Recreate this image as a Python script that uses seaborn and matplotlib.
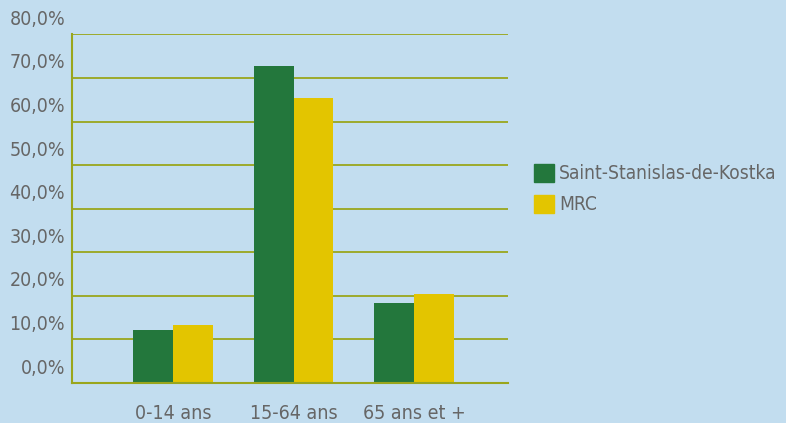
import numpy as np
import matplotlib
matplotlib.use("Agg")
import matplotlib.pyplot as plt
import matplotlib.transforms as mtransforms
import pandas as pd
import seaborn as sns

groupes = ['0-14 ans', '15-64 ans', '65 ans et +']
series = ['Saint-Stanislas-de-Kostka', 'MRC']
val_ssk = [12.2, 72.8, 18.4]
val_mrc = [13.4, 65.5, 20.5]
yticks = [0, 10, 20, 30, 40, 50, 60, 70, 80]

df = pd.DataFrame({
    'groupe': groupes * 2,
    'serie': [series[0]] * 3 + [series[1]] * 3,
    'valeur': val_ssk + val_mrc,
})

bg = '#C2DDEF'
vert = '#23773C'
jaune = '#E3C500'
olive = '#9AA61C'
gris = '#666666'

sns.set_style('white')
plt.rcParams['font.family'] = ['DejaVu Sans']
plt.rcParams['font.stretch'] = 'condensed'

fig = plt.figure(figsize=(7.86, 4.23), dpi=100, facecolor=bg)
ax = fig.add_axes([72 / 786, 40 / 423, 436 / 786, 348.6 / 423])
ax.set_facecolor(bg)

sns.barplot(data=df, x='groupe', y='valeur', hue='serie', order=groupes,
            hue_order=series, palette=[vert, jaune], width=0.66, gap=0,
            saturation=1, linewidth=0, ax=ax, legend=False)

ax.set_ylim(0, 80)
ax.set_xlim(-0.84, 2.78)
ax.set_yticks(yticks)
ax.set_yticklabels([f'{v:.1f}%'.replace('.', ',') for v in yticks])
ax.yaxis.grid(True, color=olive, linewidth=1.3)
ax.set_axisbelow(True)
ax.set_xlabel('')
ax.set_ylabel('')
ax.tick_params(axis='both', length=0, labelsize=14, labelcolor=gris)
ax.tick_params(axis='y', pad=5)
ax.tick_params(axis='x', pad=15)

# les etiquettes de l'axe y sont decalees vers le haut dans l'original
decal = mtransforms.ScaledTranslation(0, 0.17, fig.dpi_scale_trans)
for lab in ax.get_yticklabels():
    lab.set_transform(lab.get_transform() + decal)

for cote in ['top', 'right']:
    ax.spines[cote].set_visible(False)
for cote in ['left', 'bottom']:
    ax.spines[cote].set_color(olive)
    ax.spines[cote].set_linewidth(1.5)

poignees = [plt.Rectangle((0, 0), 1, 1, color=vert), plt.Rectangle((0, 0), 1, 1, color=jaune)]
leg = fig.legend(poignees, series, loc='center left', bbox_to_anchor=(534 / 786, 1 - 189 / 423),
                 frameon=False, fontsize=13.8, handlelength=1.05, handleheight=1.05,
                 handletextpad=0.25, labelspacing=0.6, borderpad=0, borderaxespad=0)
for t in leg.get_texts():
    t.set_color(gris)

fig.savefig('out.png', dpi=100, facecolor=bg)
